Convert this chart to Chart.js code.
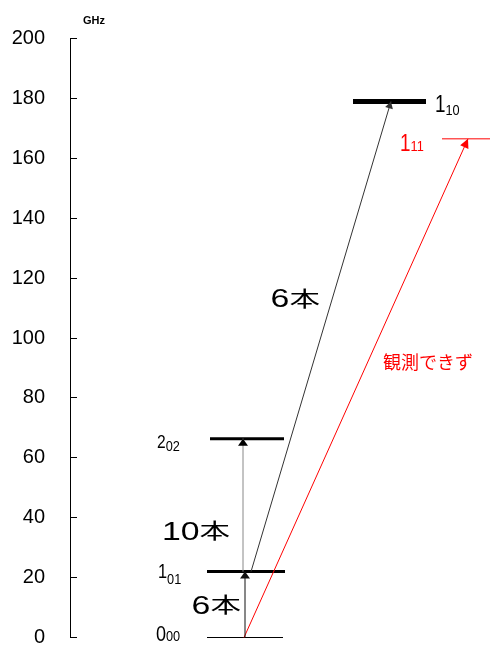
<!DOCTYPE html>
<html><head><meta charset="utf-8">
<script src="https://cdn.jsdelivr.net/npm/chart.js@4"></script>
<style>html,body{margin:0;padding:0;background:#fff;} canvas{display:block;}</style>
</head><body>
<canvas id="c" width="490" height="648"></canvas>
<script>
// ---------- DATA ----------
const levelMain  = ['0', '1', '2', '1', '1'];
const levelSub   = ['00', '01', '02', '10', '11'];
const levelGHz   = [0, 22.0, 66.4, 179.0, 166.5];
const transFrom  = [0, 1, 1, 0];
const transTo    = [1, 2, 3, 4];
const transCount = ['6本', '10本', '6本', '観測できず'];
const yTickValues = [0, 20, 40, 60, 80, 100, 120, 140, 160, 180, 200];
const yUnit = 'GHz';

// ---------- LAYOUT / STYLE ----------
const levelSpan  = [[137, 213], [137, 215], [140, 214], [283, 356], [372, 420]];
const levelWidth = [1, 3, 3, 5, 1];
const levelColor = ['#000', '#000', '#000', '#000', '#ff0000'];
const transX     = [[175, 175], [173, 173], [181, 321], [174, 398]];
const transColor = ['#111', '#888', '#333', '#ff0000'];
const transHead  = [[7, 5], [7, 5], [7, 4], [9, 4.5]];
const levelLabelPos = [
  {x: 86,  base: 3,  sub: 3,  size: 22},
  {x: 88,  base: 6,  sub: 12, size: 20},
  {x: 87,  base: 9,  sub: 12, size: 19},
  {x: 365, base: 11, sub: 14, size: 23},
  {x: 330, base: 12, sub: 12, size: 23}
];
const countPos = [
  {x: 121.6, y: 8.0,   color: '#000', cjk: 21, sx: 1.45},
  {x: 92,    y: 32.7,  color: '#000', cjk: 21, sx: 1.45},
  {x: 200.6, y: 110.2, color: '#000', cjk: 21, sx: 1.45},
  {x: 313,   y: 89.5,  color: '#ff0000', cjk: 18, sx: 1.0}
];

const datasets = [];
transFrom.forEach((f, i) => {
  datasets.push({
    data: [{x: transX[i][0], y: levelGHz[f]}, {x: transX[i][1], y: levelGHz[transTo[i]]}],
    showLine: true, borderColor: transColor[i], borderWidth: 1,
    pointRadius: 0, clip: false, arrowIdx: i
  });
});
levelGHz.forEach((v, i) => {
  datasets.push({
    data: [{x: levelSpan[i][0], y: v}, {x: levelSpan[i][1], y: v}],
    showLine: true, borderColor: levelColor[i], borderWidth: levelWidth[i],
    borderCapStyle: 'butt', pointRadius: 0, clip: false
  });
});

function drawRuns(ctx, x, y, runs, color) {
  ctx.fillStyle = color;
  ctx.textBaseline = 'alphabetic';
  ctx.textAlign = 'left';
  for (const r of runs) {
    if (!r.t) continue;
    ctx.font = r.font;
    const w = ctx.measureText(r.t).width;
    const sx = r.sx || 1;
    ctx.save();
    ctx.translate(x, y + (r.dy || 0));
    ctx.scale(sx, 1);
    ctx.fillText(r.t, 0, 0);
    ctx.restore();
    x += w * sx;
  }
}

const SANS = '"Liberation Sans", Arial, sans-serif';

const decor = {
  id: 'decor',
  afterDatasetsDraw(chart) {
    const ctx = chart.ctx;
    chart.data.datasets.forEach((ds, di) => {
      if (ds.arrowIdx === undefined) return;
      const meta = chart.getDatasetMeta(di);
      const p0 = meta.data[0], p1 = meta.data[1];
      const ang = Math.atan2(p1.y - p0.y, p1.x - p0.x);
      const [len, hw] = transHead[ds.arrowIdx];
      ctx.save();
      ctx.fillStyle = ds.borderColor === '#888' ? '#000' : ds.borderColor;
      ctx.translate(p1.x, p1.y);
      ctx.rotate(ang);
      ctx.beginPath();
      ctx.moveTo(0, 0);
      ctx.lineTo(-len, -hw);
      ctx.lineTo(-len, hw);
      ctx.closePath();
      ctx.fill();
      ctx.restore();
    });
  },
  afterDraw(chart) {
    const ctx = chart.ctx;
    const xs = chart.scales.x, ys = chart.scales.y;
    const left = chart.chartArea.left;
    ctx.save();
    // inner tick marks
    ctx.strokeStyle = '#000';
    ctx.lineWidth = 1;
    yTickValues.forEach(v => {
      const py = Math.floor(ys.getPixelForValue(v)) + 0.5;
      ctx.beginPath();
      ctx.moveTo(left, py);
      ctx.lineTo(left + 7, py);
      ctx.stroke();
    });
    // unit
    ctx.fillStyle = '#000';
    ctx.font = 'bold 11px ' + SANS;
    ctx.textAlign = 'left';
    ctx.textBaseline = 'alphabetic';
    ctx.fillText(yUnit, left + 13, 24);
    // level labels
    levelGHz.forEach((v, i) => {
      const L = levelLabelPos[i];
      const py = ys.getPixelForValue(v);
      const px = xs.getPixelForValue(L.x);
      drawRuns(ctx, px, py + L.base, [
        {t: levelMain[i], font: L.size + 'px ' + SANS, sx: 0.82},
        {t: levelSub[i], font: '15px ' + SANS, sx: 0.85, dy: L.sub - L.base}
      ], levelColor[i]);
    });
    // transition count labels
    transCount.forEach((t, i) => {
      const P = countPos[i];
      const m = t.match(/^(\d*)(.*)$/);
      const px = xs.getPixelForValue(P.x);
      const py = ys.getPixelForValue(P.y);
      drawRuns(ctx, px, py, [
        {t: m[1], font: '26px ' + SANS, sx: 1.3},
        {t: m[2], font: P.cjk + 'px "Noto Sans CJK JP", sans-serif', sx: P.sx, dy: m[1] ? -1.5 : 0}
      ], P.color);
    });
    ctx.restore();
  }
};

new Chart(document.getElementById('c'), {
  type: 'scatter',
  data: {datasets},
  options: {
    responsive: false,
    animation: false,
    devicePixelRatio: 1,
    layout: {padding: {top: 38.5, bottom: 10.5, left: 0, right: 0}},
    plugins: {legend: {display: false}, tooltip: {enabled: false}},
    scales: {
      x: {type: 'linear', min: 0, max: 420, display: false},
      y: {
        type: 'linear', min: 0, max: 200,
        afterBuildTicks: s => { s.ticks = yTickValues.map(v => ({value: v})); },
        afterFit: s => { s.width = 70; },
        ticks: {
          color: '#000', padding: 0,
          font: {family: SANS, size: 20, lineHeight: 1}
        },
        grid: {display: true, drawOnChartArea: false, drawTicks: true, tickLength: 25, tickColor: 'rgba(0,0,0,0)', color: 'rgba(0,0,0,0)'},
        border: {display: true, color: '#000', width: 1}
      }
    }
  },
  plugins: [decor]
});
</script>
</body></html>
